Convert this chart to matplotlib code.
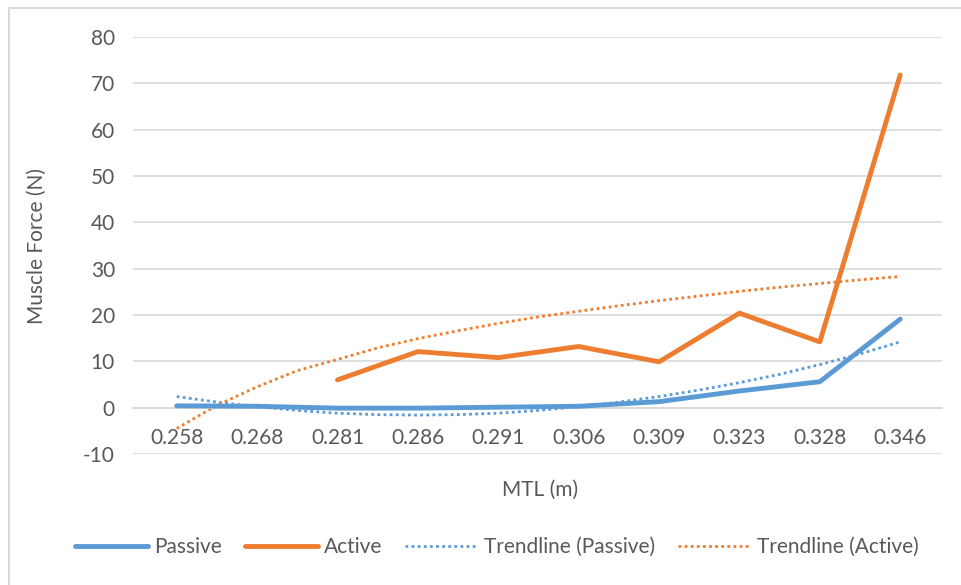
import matplotlib
matplotlib.use("Agg")
import matplotlib.pyplot as plt
from matplotlib.patches import Rectangle

# data
mtl = ["0.258", "0.268", "0.281", "0.286", "0.291", "0.306", "0.309", "0.323", "0.328", "0.346"]
passive = [0.4, 0.3, -0.1, -0.1, 0.1, 0.3, 1.3, 3.6, 5.6, 19.1]
active = [None, None, 6.0, 12.1, 10.8, 13.2, 9.9, 20.4, 14.2, 71.8]

# trendlines sampled every half category
trend_pos = [0, 0.5, 1, 1.5, 2, 2.5, 3, 3.5, 4, 4.5, 5, 5.5, 6, 6.5, 7, 7.5, 8, 8.5, 9]
trend_passive = [2.4, 1.2, 0.2, -0.6, -1.2, -1.5, -1.6, -1.5, -1.2, -0.6, 0.2, 1.2, 2.4,
                 3.8, 5.4, 7.2, 9.3, 11.6, 14.2]
trend_active = [-4.5, 0.5, 4.5, 8.0, 10.4, 12.9, 14.9, 16.6, 18.2, 19.6, 20.8, 22.0, 23.1,
                24.1, 25.1, 26.0, 26.8, 27.6, 28.3]

yticks = list(range(-10, 81, 10))

BLUE = "#5B9BD5"
ORANGE = "#ED7D31"
GRID = "#D9D9D9"
TXT = "#595959"
FS = 15

plt.rcParams["font.family"] = ["Lato", "DejaVu Sans"]
plt.rcParams["axes.unicode_minus"] = False

fig = plt.figure(figsize=(9.62, 5.85), dpi=100)
fig.patches.append(Rectangle((9 / 962, -0.1), 1.2, 1 - 8 / 585 + 0.1, transform=fig.transFigure,
                             fill=False, edgecolor="#D9D9D9", linewidth=1.5))
ax = fig.add_axes([133 / 962, 1 - 454 / 585, (942 - 133) / 962, (454 - 37) / 585])

x = list(range(len(mtl)))
ax.plot(x, passive, color=BLUE, lw=3.5, solid_capstyle="round", label="Passive", zorder=3)
xa = [i for i, v in zip(x, active) if v is not None]
ya = [v for v in active if v is not None]
ax.plot(xa, ya, color=ORANGE, lw=3.5, solid_capstyle="round", label="Active", zorder=3)
ax.plot(trend_pos, trend_passive, color=BLUE, lw=2, ls=(0, (1, 1.2)), label="Trendline (Passive)", zorder=2)
ax.plot(trend_pos, trend_active, color=ORANGE, lw=2, ls=(0, (1, 1.2)), label="Trendline (Active)", zorder=2)

ax.set_xlim(-0.544, 9.52)
ax.set_ylim(-10, 80)
ax.set_yticks(yticks)
ax.set_xticks(x)
ax.set_xticklabels(mtl)
ax.yaxis.grid(True, color=GRID, lw=1.2)
ax.set_axisbelow(True)
for s in ["top", "right", "left"]:
    ax.spines[s].set_visible(False)
ax.spines["bottom"].set_position(("data", 0))
ax.spines["bottom"].set_color(GRID)
ax.spines["bottom"].set_linewidth(1.2)
ax.tick_params(axis="both", length=0, colors=TXT, labelsize=FS)
ax.tick_params(axis="y", pad=13)
ax.tick_params(axis="x", pad=15)

ax.set_ylabel("Muscle Force (N)", color=TXT, fontsize=FS)
ax.yaxis.set_label_coords(-(133 - 47) / 809, 0.5)
fig.text(540 / 962, 1 - 490 / 585, "MTL (m)", color=TXT, fontsize=FS, ha="center", va="center")

leg = fig.legend(loc="center", bbox_to_anchor=(497 / 962, 1 - 547 / 585), ncol=4, frameon=False,
                 fontsize=FS, handlelength=3.5, handletextpad=0.3, columnspacing=1.1)
for t in leg.get_texts():
    t.set_color(TXT)

fig.savefig("out.png", dpi=100, facecolor="white")
